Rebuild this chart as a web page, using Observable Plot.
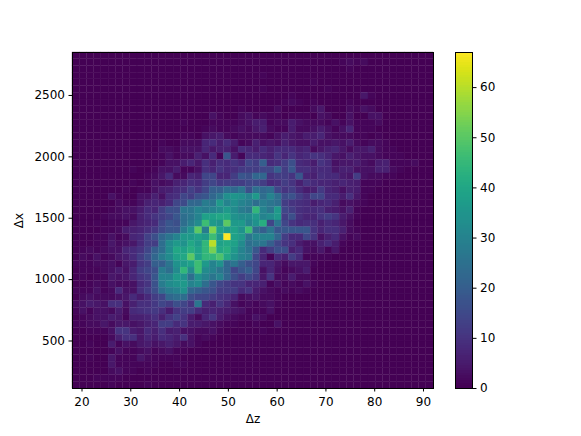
<!DOCTYPE html>
<html>
<head>
<meta charset="utf-8">
<script src="https://cdn.jsdelivr.net/npm/d3@7"></script>
<script src="https://cdn.jsdelivr.net/npm/@observablehq/plot@0.6"></script>
<style>
html,body{margin:0;padding:0;background:#fff;}
#chart{position:relative;width:581px;height:436px;overflow:hidden;}
#chart svg{position:absolute;left:0;top:0;}
</style>
</head>
<body>
<div id="chart"></div>
<script>
const xLabel = "Δz", yLabel = "Δx";
const xTicks = [20,30,40,50,60,70,80,90];
const yTicks = [500,1000,1500,2000,2500];
const barTicks = [0,10,20,30,40,50,60];
const xDomain = [18.05, 92.05];
const yDomain = [113, 2850];
const maxCount = 67;
const nBins = 50;

// counts per bin, top row first: columns 0-24
const leftCounts = [
[],[],[],[],[],[],[],[],
[0,0,0,0,0,0,0,0,0,0,0,0,0,0,0,0,0,0,0,0,0,0,0,1,0],
[0,0,0,0,0,0,0,0,0,0,0,0,0,0,0,0,0,0,0,3,1,0,0,2,3],
[0,0,0,0,0,0,0,0,0,0,0,0,0,0,0,1,0,0,0,1,1,1,1,2,3],
[0,0,0,0,0,0,0,0,0,0,0,0,0,0,0,0,0,0,1,2,1,1,2,3,2],
[0,0,0,0,0,0,0,0,0,0,0,0,0,0,0,1,1,0,3,4,5,2,1,2,2],
[0,0,0,0,0,0,0,0,0,0,0,0,1,0,0,2,2,2,7,8,5,8,5,1,2],
[0,0,0,0,0,0,0,0,0,0,0,0,2,2,1,3,3,3,7,4,6,6,3,8,7],
[0,0,0,0,0,0,0,0,0,0,0,1,1,3,1,2,2,6,3,8,1,18,5,1,8],
[0,0,0,0,0,0,0,0,0,0,0,0,1,3,3,5,7,4,9,6,9,8,10,8,14],
[0,0,0,0,0,0,0,0,1,0,0,1,3,3,5,1,1,3,9,7,10,8,9,11,12],
[0,0,0,0,0,0,0,0,0,0,1,2,4,8,2,2,7,6,14,14,7,7,12,18,16],
[0,0,0,0,0,0,0,0,1,0,1,3,2,3,6,7,9,8,12,14,11,12,12,12,14],
[0,0,0,0,0,0,0,1,0,1,1,3,5,6,8,9,13,10,14,20,20,24,22,26,16],
[0,0,0,0,0,3,1,0,0,3,3,6,3,8,9,14,12,16,18,22,26,33,35,33,30],
[0,0,0,0,0,0,2,1,1,3,6,7,6,8,14,15,22,22,28,26,36,30,33,30,28],
[0,0,0,0,0,1,2,3,3,5,8,7,12,16,16,26,26,30,28,30,32,36,32,28,26],
[0,0,0,0,1,2,2,3,2,6,8,10,12,14,18,24,26,30,38,38,40,40,34,32,32],
[0,0,0,1,0,1,1,1,4,6,7,8,14,18,16,24,28,32,46,36,34,50,36,36,30],
[0,0,0,0,1,1,2,5,6,7,9,11,15,18,18,28,34,50,28,54,38,36,38,34,46],
[0,0,0,1,1,3,1,2,7,8,13,16,22,26,30,36,36,38,36,46,36,67,38,36,26],
[0,0,0,1,1,4,2,3,4,8,12,12,24,32,36,34,40,36,44,60,38,40,38,32,24],
[0,1,2,1,2,3,3,7,8,10,14,20,24,32,40,38,42,38,44,53,40,42,36,30,26],
[0,2,1,3,1,2,4,5,8,12,16,22,28,32,38,40,50,38,44,44,48,40,34,30,28],
[1,1,1,2,2,3,1,4,5,10,12,20,20,26,34,36,38,46,36,30,34,22,26,20,16],
[0,1,1,1,2,3,5,3,7,12,14,16,28,24,32,44,32,46,32,30,26,22,14,18,20],
[0,1,0,1,1,4,3,4,7,10,12,18,30,30,36,34,24,34,30,26,30,22,16,12,15],
[0,0,1,2,1,3,2,2,3,8,10,17,28,32,34,36,30,32,24,18,14,12,10,10,7],
[1,1,1,3,1,2,8,3,3,9,12,16,24,28,30,34,22,20,18,16,12,12,12,8,10],
[0,2,3,2,2,2,3,4,8,5,8,12,14,22,24,24,16,14,14,12,10,9,7,2,3],
[2,3,5,4,3,9,9,3,6,9,9,11,14,12,16,14,10,26,8,6,10,7,3,1,2],
[1,3,1,3,3,2,5,2,8,9,10,11,9,5,10,12,12,8,6,7,6,5,4,3,1],
[0,1,2,3,3,5,4,1,6,6,7,9,6,10,13,10,5,2,7,10,5,3,2,1,1],
[1,1,2,2,4,2,4,4,3,4,6,7,12,12,8,10,5,5,4,3,2,1,1],
[0,0,1,1,1,3,10,10,5,4,8,6,9,5,6,3,3,2,2,3,1],
[0,0,0,0,0,2,6,9,9,4,7,5,8,7,5,9,3,1,2,1],
[0,0,1,0,0,5,1,3,2,4,5,3,4,6,4,2,3,1],
[0,0,0,0,0,1,3,1,1,2,3,1,2,3,1,1],
[0,0,1,0,0,4,1,1,1,4,2,1,1,1,1],
[0,0,0,0,0,4,1,1,1,1,1,1,0,0,1,1],
[0,0,0,0,0,2,3,1,1,0,1],
[0,0,0,1,1,1,1],
[0,0,0,0,0,1,0,0,0,0,1]
];

// counts per bin, top row first: columns 25-49
const rightCounts = [
[],
[0,0,0,0,0,0,0,0,0,0,0,0,1,2,1,2],
[0,0,0,0,0,0,0,0,0,0,0,0,0,1],
[0,1],
[0,0,0,0,0,0,0,0,1],
[0,1,0,0,0,0,0,0,0,0,1],
[0,0,0,0,0,1,0,0,0,0,0,0,0,0,0,4,1],
[0,0,0,0,1,2,1,0,1,0,0,0,0,1],
[0,0,0,2,0,0,0,0,2,4,0,0,0,2,1,3,2],
[1,2,1,1,0,1,1,1,0,3,2,0,0,3,0,0,3,3],
[5,5,1,2,2,5,3,2,2,2,1,3,1,3,1,1,1,2],
[4,6,2,1,1,5,2,2,3,5,3,1,3,7,1,1,1],
[2,2,1,3,5,4,3,5,5,7,3,2,2,2,1,1,0,1],
[6,3,4,3,6,4,3,3,5,3,3,4,3,5,2,1,2,2,1],
[5,8,6,8,8,8,6,7,2,4,6,7,4,2,4,4,6,2,1,1],
[8,7,6,10,7,10,7,8,10,9,7,4,3,6,4,3,3,2,1,1,1],
[12,20,8,9,12,16,8,7,5,10,8,3,4,4,5,3,2,5,6,1,1,1,2],
[12,14,14,20,12,18,9,9,7,8,8,4,6,6,3,3,3,6,6,2,1],
[22,22,10,12,12,10,18,7,6,9,8,8,5,4,12,3,2,2,1,1],
[14,12,8,9,12,10,6,10,8,7,7,6,7,6,5,1,1,1],
[24,22,24,14,10,12,8,5,6,11,7,6,3,6,5,1,1],
[36,24,30,24,15,17,12,9,14,14,8,8,5,9,4,1],
[24,28,26,24,12,10,9,8,5,7,8,6,2,3,2,1],
[44,30,26,36,14,12,9,8,8,9,6,5,3,6,1],
[36,30,32,36,12,16,9,7,7,10,12,10,5,3,1],
[34,42,14,26,14,10,8,9,9,6,8,7,4,2],
[24,20,26,18,18,18,18,18,10,7,9,9,6,2,1],
[30,30,30,22,12,8,8,14,10,3,6,8,3,1,2],
[26,26,20,14,10,9,5,3,3,6,8,5,1],
[18,8,12,16,16,6,8,3,2,4,1,4],
[14,7,1,8,6,12,8,1,1,1,1],
[14,7,7,4,2,4,4,4,1],
[14,3,7,3,1,2,3,5],
[12,4,10,2,2,5,2,2],
[7,6,1,3,1,2,1,3,1],
[5,3,2,1,2,1,2,1],
[4,2,2,1],
[1,2,3,1],
[1,1,3],
[3,2],
[1,0,0,3],
[0,1],
[],[],[],[],[],[],[],[]
];

const xStep = (xDomain[1]-xDomain[0])/nBins;
const yStep = (yDomain[1]-yDomain[0])/nBins;
const cells = [];
for (let r=0;r<nBins;r++) for (let c=0;c<nBins;c++) {
  const v = c<25 ? (leftCounts[r]||[])[c] : (rightCounts[r]||[])[c-25];
  cells.push({
    x1:xDomain[0]+c*xStep, x2:xDomain[0]+(c+1)*xStep,
    y2:yDomain[1]-r*yStep, y1:yDomain[1]-(r+1)*yStep,
    v:v||0
  });
}
const font = {background:"transparent",fontSize:"12px",fontFamily:"'DejaVu Sans',sans-serif",color:"#000",overflow:"visible",maxWidth:"none"};

const main = Plot.plot({
  width:581,height:436,
  marginLeft:72,marginRight:148,marginTop:52,marginBottom:48,
  style:font,
  x:{domain:xDomain},
  y:{domain:yDomain},
  color:{type:"linear",scheme:"viridis",domain:[0,maxCount]},
  marks:[
    Plot.rect(cells,{x1:"x1",x2:"x2",y1:"y1",y2:"y2",fill:"v",stroke:"v",strokeWidth:0.3,inset:0}),
    Plot.frame({stroke:"#000",strokeWidth:1}),
    Plot.axisX({ticks:xTicks,tickSize:3.5,tickPadding:5,tickFormat:d=>String(d),label:xLabel,labelArrow:"none",labelAnchor:"center",labelOffset:34}),
    Plot.axisY({ticks:yTicks,tickSize:3.5,tickPadding:4,tickFormat:d=>String(d),label:yLabel,labelArrow:"none",labelAnchor:"center",labelOffset:58})
  ]
});
const ramp = d3.range(0,maxCount,0.5);
const bar = Plot.plot({
  width:581,height:436,
  marginLeft:455,marginRight:109,marginTop:52,marginBottom:48,
  style:font,
  x:{axis:null,domain:[0,1]},
  y:{domain:[0,maxCount],label:null},
  color:{type:"linear",scheme:"viridis",domain:[0,maxCount]},
  marks:[
    Plot.rect(ramp,{x1:0,x2:1,y1:d=>d,y2:d=>d+0.5,fill:d=>d,shapeRendering:"crispEdges"}),
    Plot.frame({stroke:"#000",strokeWidth:1}),
    Plot.axisY({anchor:"right",ticks:barTicks,tickSize:3.5,tickPadding:4,tickFormat:d=>String(d),label:null})
  ]
});
const host=document.getElementById("chart");
host.appendChild(main);host.appendChild(bar);
</script>
</body>
</html>
